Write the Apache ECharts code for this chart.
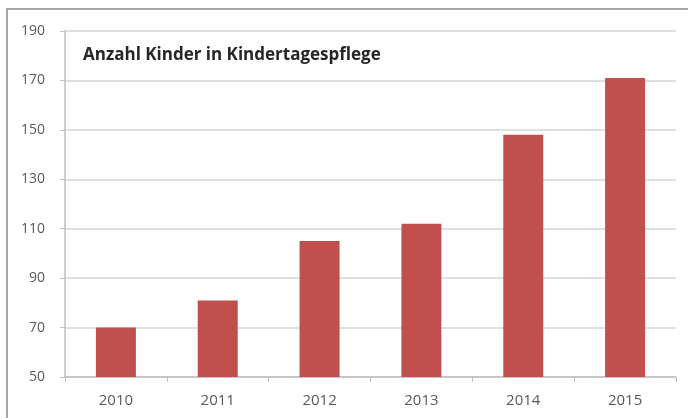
<!DOCTYPE html>
<html>
<head>
<meta charset="utf-8">
<script src="https://cdn.jsdelivr.net/npm/echarts@6/dist/echarts.min.js"></script>
<style>
  html, body { margin: 0; padding: 0; background: #fff; }
  .frame {
    position: absolute; left: 6px; top: 8px;
    width: 700px; height: 430px;
    border: 2px solid #a6a6a6;
    box-sizing: border-box;
  }
  #chart { position: absolute; left: 0; top: 0; width: 688px; height: 418px; }
</style>
</head>
<body>
<div class="frame"></div>
<div id="chart"></div>
<script>
  // Jahre und Werte
  var years = ['2010', '2011', '2012', '2013', '2014', '2015'];
  var kinder = [70, 81, 105, 112, 148, 171];
  var titleText = 'Anzahl Kinder in Kindertagespflege';

  var myChart = echarts.init(document.getElementById('chart'));
  myChart.setOption({
    animation: false,
    title: {
      text: titleText,
      left: 78,
      top: 42,
      textStyle: { fontFamily: 'Open Sans', fontSize: 17, fontWeight: 'bold', color: '#262626' }
    },
    grid: { left: 65, right: 12, top: 31, bottom: 41 },
    xAxis: {
      type: 'category',
      data: years,
      axisLine: { lineStyle: { color: '#bfbfbf', width: 1.5 } },
      axisTick: { show: true, length: 5, lineStyle: { color: '#bfbfbf' } },
      axisLabel: { color: '#595959', fontFamily: 'Open Sans', fontSize: 15, margin: 16 }
    },
    yAxis: {
      type: 'value',
      min: 50,
      max: 190,
      interval: 20,
      axisLine: { show: true, lineStyle: { color: '#bfbfbf', width: 1.5 } },
      axisTick: { show: true, length: 5, lineStyle: { color: '#bfbfbf' } },
      axisLabel: { color: '#595959', fontFamily: 'Open Sans', fontSize: 14, margin: 20 },
      splitLine: { lineStyle: { color: '#d4d4d4', width: 1.5 } }
    },
    series: [{
      type: 'bar',
      data: kinder,
      barWidth: 40,
      itemStyle: { color: '#c0504d' }
    }]
  });
</script>
</body>
</html>
